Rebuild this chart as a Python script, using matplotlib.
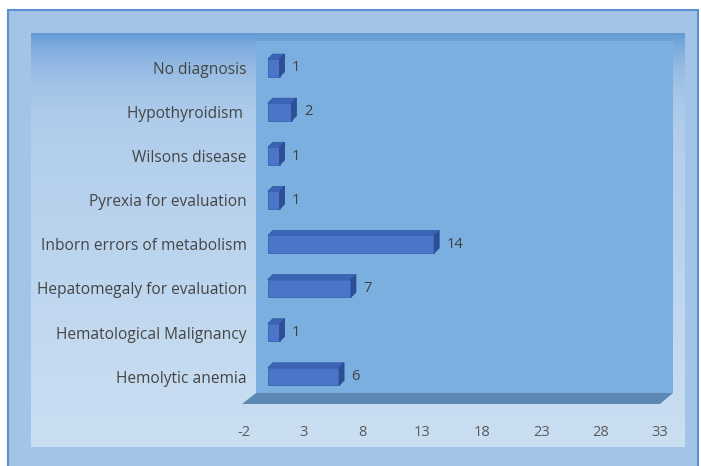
import numpy as np
import matplotlib
matplotlib.use("Agg")
import matplotlib.pyplot as plt
from matplotlib.patches import Rectangle, Polygon
from matplotlib.transforms import ScaledTranslation

# data (bottom to top)
categories = ["Hemolytic anemia", "Hematological Malignancy",
              "Hepatomegaly for evaluation", "Inborn errors of metabolism",
              "Pyrexia for evaluation", "Wilsons disease",
              "Hypothyroidism ", "No diagnosis"]
values = [6, 1, 7, 14, 1, 1, 2, 1]
xticks = [-2, 3, 8, 13, 18, 23, 28, 33]

W, H = 701, 466
DPI = 100

# layout in pixels
AX_L, AX_R, AX_T, AX_B = 244, 660, 37, 404
DX, DY = 13, 11          # depth of the 3d box
BAR_DX, BAR_DY = 5, 5    # depth of each bar
BAR_H = 0.40

fig = plt.figure(figsize=(W / DPI, H / DPI), dpi=DPI)
fig.patch.set_facecolor("white")

# background axes in pixel coords
bg = fig.add_axes([0, 0, 1, 1])
bg.axis("off")

# outer frame
bg.add_patch(Rectangle((8, 10), 690, 470, facecolor="#a4c4e7",
                       edgecolor="#5b8ed2", lw=1.5, zorder=0))

# inner panel with vertical gradient
t = np.linspace(0, 1, 256)
top = np.array([0x66, 0x9c, 0xd6]) / 255
mid = np.array([0xb2, 0xce, 0xec]) / 255
bot = np.array([0xcb, 0xdf, 0xf2]) / 255
k1 = (1 - np.exp(-t / 0.25 * 2.5)) / (1 - np.exp(-2.5))
grad = np.where(t[:, None] < 0.25,
                top + (mid - top) * k1[:, None],
                mid + (bot - mid) * ((t[:, None] - 0.25) / 0.75))
grad = np.clip(grad, 0, 1)
img = np.repeat(grad[:, None, :], 2, axis=1)
bg.imshow(img, extent=(31, 685, 447, 33), aspect="auto",
          interpolation="bilinear", zorder=1)

# back wall
bg.add_patch(Rectangle((AX_L + DX - 1, AX_T + 1), AX_R - AX_L + 1, AX_B - DY - AX_T - 1,
                       facecolor="#7aafdf", edgecolor="none", zorder=2))
bg.add_patch(Rectangle((AX_L + DX - 1, AX_T + 1), AX_R - AX_L + 1, 3,
                       facecolor="#6a9fd4", edgecolor="none", zorder=2))
# floor
bg.add_patch(Polygon([(AX_L - 2, AX_B), (AX_R, AX_B), (AX_R + DX, AX_B - DY),
                      (AX_L + DX - 1, AX_B - DY)], closed=True,
                     facecolor="#5c88b6", edgecolor="none", zorder=2))
bg.set_xlim(0, W)
bg.set_ylim(H, 0)

# main axes (front plane)
ax = fig.add_axes([AX_L / W, 1 - AX_B / H, (AX_R - AX_L) / W, (AX_B - AX_T) / H])
ax.patch.set_alpha(0)
ax.set_xlim(-2, 33)
ax.set_ylim(-0.62, 7.7)
for s in ax.spines.values():
    s.set_visible(False)

ypos = np.arange(len(categories))
ax.barh(ypos, values, height=BAR_H, color="#4a75c9", edgecolor="#3a62b2", lw=0.6, zorder=3)

shift = ScaledTranslation(BAR_DX / DPI, BAR_DY / DPI, fig.dpi_scale_trans)
for y, v in zip(ypos, values):
    y0, y1 = y - BAR_H / 2, y + BAR_H / 2
    # top face
    tp = ax.transData.transform([(0, y1), (v, y1)])
    tp_off = (ax.transData + shift).transform([(v, y1), (0, y1)])
    poly = np.vstack([tp, tp_off])
    ax.add_patch(Polygon(poly, closed=True, transform=None, facecolor="#3b64b6",
                         edgecolor="#31579f", lw=0.5, zorder=2))
    # side face
    sp = ax.transData.transform([(v, y0), (v, y1)])
    sp_off = (ax.transData + shift).transform([(v, y1), (v, y0)])
    poly = np.vstack([sp, sp_off])
    ax.add_patch(Polygon(poly, closed=True, transform=None, facecolor="#2c4f98",
                         edgecolor="#27488c", lw=0.5, zorder=4))
    ax.annotate(str(v), (v, y), xytext=(9, 0), textcoords="offset points",
                va="center", ha="left", fontsize=10.5, color="#404040",
                family="Open Sans")

ax.set_yticks(ypos)
ax.set_yticklabels(categories, fontsize=11.2, color="#454545", family="Open Sans")
ax.set_xticks(xticks)
ax.set_xticklabels([str(x) for x in xticks], fontsize=10.5, color="#595959",
                   family="Open Sans")
ax.tick_params(axis="y", length=0, pad=-2)
ax.tick_params(axis="x", length=0, pad=15)

fig.savefig("out.png", dpi=DPI)
